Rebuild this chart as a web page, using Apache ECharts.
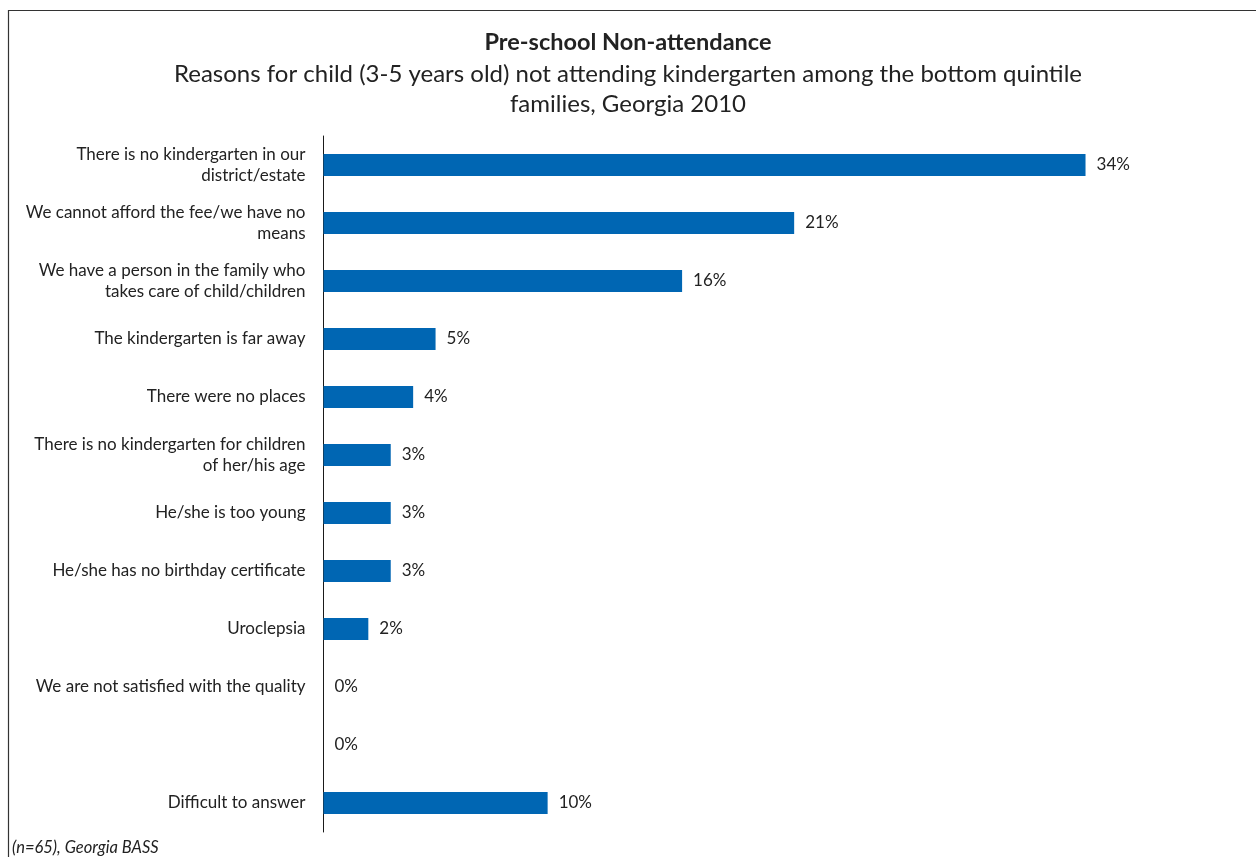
<!DOCTYPE html>
<html>
<head>
<meta charset="utf-8">
<script src="https://cdn.jsdelivr.net/npm/echarts@6/dist/echarts.min.js"></script>
<style>
  html, body { margin: 0; padding: 0; background: #fff; }
  #chart { width: 1256px; height: 857px; }
</style>
</head>
<body>
<div id="chart"></div>
<script>
// Reasons for non-attendance, top to bottom
const reasons = [
  'There is no kindergarten in our\ndistrict/estate',
  'We cannot afford the fee/we have no\nmeans',
  'We have a person in the family who\ntakes care of child/children',
  'The kindergarten is far away',
  'There were no places',
  'There is no kindergarten for children\nof her/his age',
  'He/she is too young',
  'He/she has no birthday certificate',
  'Uroclepsia',
  'We are not satisfied with the quality',
  '',
  'Difficult to answer'
];
// Share of children (%)
const shares = [34, 21, 16, 5, 4, 3, 3, 3, 2, 0, 0, 10];

const titleText = 'Pre-school Non-attendance';
const subtitleText = 'Reasons for child (3-5 years old) not attending kindergarten among the bottom quintile\nfamilies, Georgia 2010';
const sourceText = '(n=65), Georgia BASS';

const FONT = 'Lato, "Open Sans", sans-serif';
const INK = '#222222';
const chart = echarts.init(document.getElementById('chart'), null, { renderer: 'canvas' });

chart.setOption({
  backgroundColor: '#ffffff',
  animation: false,
  textStyle: { fontFamily: FONT },
  graphic: [
    {
      type: 'rect',
      shape: { x: 8.5, y: 10.5, width: 1260, height: 860 },
      style: { fill: 'none', stroke: '#333333', lineWidth: 1.2 },
      silent: true
    },
    {
      type: 'text',
      left: 'center',
      top: 30,
      style: {
        text: titleText,
        font: 'bold 23.5px ' + FONT,
        fill: INK,
        textAlign: 'center'
      }
    },
    {
      type: 'text',
      left: 'center',
      top: 59,
      style: {
        text: subtitleText,
        font: '24px ' + FONT,
        lineHeight: 30,
        fill: INK,
        textAlign: 'center'
      }
    },
    {
      type: 'text',
      left: 12,
      top: 839,
      style: {
        text: sourceText,
        font: 'italic 16.5px ' + FONT,
        fill: INK
      }
    }
  ],
  grid: {
    left: 323.5,
    right: 36,
    top: 136,
    bottom: 25,
    containLabel: false
  },
  xAxis: {
    type: 'value',
    min: 0,
    max: 40,
    show: false
  },
  yAxis: {
    type: 'category',
    data: reasons,
    inverse: true,
    axisLine: { show: true, lineStyle: { color: '#1a1a1a', width: 1 } },
    axisTick: { show: false },
    axisLabel: {
      margin: 18,
      fontSize: 17,
      lineHeight: 21,
      color: INK,
      fontFamily: FONT,
      align: 'right'
    }
  },
  series: [
    {
      type: 'bar',
      data: shares,
      barWidth: 22,
      itemStyle: { color: '#0066b3' },
      label: {
        show: true,
        position: 'right',
        distance: 11,
        fontSize: 17,
        color: INK,
        fontFamily: FONT,
        formatter: p => p.value + '%'
      }
    }
  ]
});
</script>
</body>
</html>
